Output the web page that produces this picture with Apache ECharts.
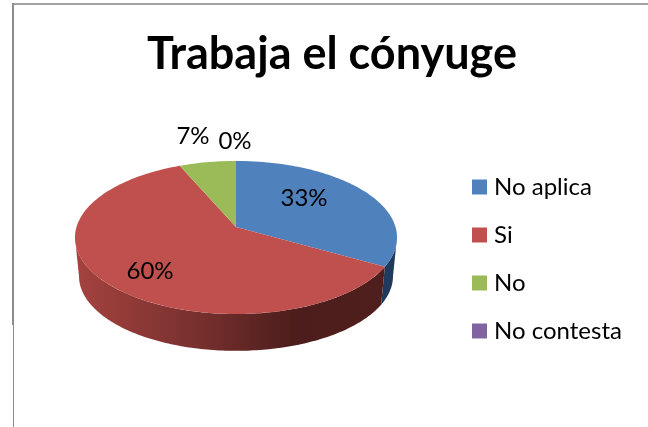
<!DOCTYPE html>
<html><head><meta charset="utf-8">
<style>html,body{margin:0;padding:0;background:#fff}#c{width:648px;height:427px}</style>
<script src="https://cdn.jsdelivr.net/npm/echarts@6/dist/echarts.min.js"></script>
</head><body><div id="c"></div>
<script>
const titleText = 'Trabaja el cónyuge';
const categories = ['No aplica', 'Si', 'No', 'No contesta'];
const values = [33.2, 60.3, 6.5, 0];
const topColors = ['#4f81bd', '#c0504d', '#9bbb59', '#8064a2'];
const wallColors = [
  '#1f3a5c',
  {type:'linear',x:75,y:0,x2:397,y2:0,global:true,colorStops:[
    {offset:0,color:'#a5423f'},{offset:0.4,color:'#752f2d'},{offset:0.68,color:'#4c1d1c'},{offset:1,color:'#501f1d'}]},
  '#5f7034', '#4c3c61'
];
const labelPos = [[304,198],[150,271],[193,136],[235,141]];

const total = values.reduce((a,b)=>a+b,0);
const starts = values.map((v,i)=>values.slice(0,i).reduce((a,b)=>a+b,0));
const FONT = 'Lato, Carlito, sans-serif';

// perspective projection of the pie disc
const K = 0.137, B = 159.5, A = 75.1;
const TANGENT = Math.acos(-K)*180/Math.PI; // angle of the disc's widest point
function project(deg, cx, cy, s, r) {
  const t = deg*Math.PI/180, u = r*Math.sin(t), v = r*Math.cos(t), d = 1+K*v;
  return [cx + s*B*u/d, cy - s*A*v/d];
}
const top0 = [236,227,1], bot0 = [236,266,0.975];
function arc(a0,a1,p){
  const n = Math.max(2,Math.ceil(Math.abs(a1-a0))), pts=[];
  for(let i=0;i<=n;i++) pts.push(project(a0+(a1-a0)*i/n,p[0],p[1],p[2],1));
  return pts;
}
function renderer(i){
  return function(params, api){
    const v = api.value(0);
    const a0 = starts[i]/total*360, a1 = (starts[i]+v)/total*360;
    const w0 = Math.max(a0,TANGENT), w1 = Math.min(a1,360-TANGENT);
    const children = [];
    if (v > 0) {
      if (w1 > w0) children.push({type:'polygon',z2:1,silent:true,
        shape:{points:arc(w0,w1,top0).concat(arc(w1,w0,bot0))},
        style:{fill:wallColors[i],stroke:null}});
      children.push({type:'polygon',z2:5,silent:true,
        shape:{points:[[top0[0],top0[1]]].concat(arc(a0,a1,top0))},
        style:{fill:topColors[i],stroke:null}});
    }
    children.push({type:'text',z2:20,silent:true,
      style:{text:Math.round(v/total*100)+'%',x:labelPos[i][0],y:labelPos[i][1],
        font:'24px '+FONT,fill:'#000',align:'center',verticalAlign:'middle'}});
    return {type:'group',children};
  };
}
const chart = echarts.init(document.getElementById('c'),null,{renderer:'canvas'});
chart.setOption({
  animation:false,
  backgroundColor:'#fff',
  title:{text:titleText,left:327,top:27,textAlign:'center',
    textStyle:{fontFamily:FONT,fontWeight:'bold',fontSize:45,color:'#000'}},
  legend:{orient:'vertical',left:467,top:170,icon:'rect',itemWidth:15,itemHeight:15,itemGap:24,
    data:categories,selectedMode:false,
    textStyle:{fontFamily:FONT,fontSize:24,color:'#000',padding:[0,0,0,2]}},
  graphic:[
    {type:'rect',shape:{x:12,y:3,width:636,height:2},style:{fill:'#a3a3a3'},silent:true},
    {type:'rect',shape:{x:12,y:3,width:2,height:322},style:{fill:'#8c8c8c'},silent:true},
    {type:'rect',shape:{x:13,y:325,width:1,height:102},style:{fill:'#8c8c8c'},silent:true}
  ],
  series:categories.map((name,i)=>({
    type:'custom',name,coordinateSystem:'none',silent:true,
    itemStyle:{color:topColors[i]},
    data:[[values[i]]],
    renderItem:renderer(i)
  }))
});
</script></body></html>
